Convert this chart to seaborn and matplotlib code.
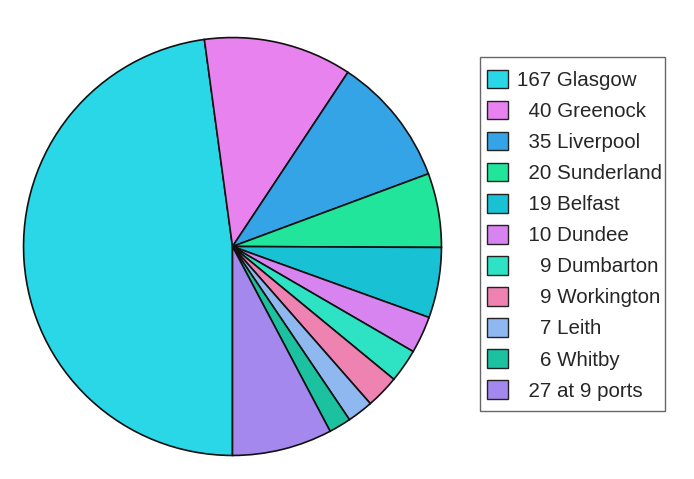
import matplotlib
matplotlib.use("Agg")
import matplotlib.pyplot as plt
import seaborn as sns
from matplotlib.patches import Patch, Rectangle

sns.set_style("white")
plt.rcParams['font.family'] = ['Liberation Sans', 'DejaVu Sans']

ports = ["Glasgow", "Greenock", "Liverpool", "Sunderland", "Belfast", "Dundee",
         "Dumbarton", "Workington", "Leith", "Whitby", "at 9 ports"]
counts = [167, 40, 35, 20, 19, 10, 9, 9, 7, 6, 27]
labels = ["167 Glasgow", "  40 Greenock", "  35 Liverpool", "  20 Sunderland",
          "  19 Belfast", "  10 Dundee", "    9 Dumbarton", "    9 Workington",
          "    7 Leith", "    6 Whitby", "  27 at 9 ports"]
colors = ["#2AD7E6", "#E882EE", "#34A4E6", "#20E59A", "#18C1D4", "#D884F0",
          "#2EE3C4", "#EE82B0", "#90B8F0", "#1CC2A0", "#A488EE"]

W, H = 694, 479
fig = plt.figure(figsize=(W / 100, H / 100), dpi=100)
cx, cy, r = 232.5, 246.5, 210
ax = fig.add_axes([(cx - r) / W, (H - cy - r) / H, 2 * r / W, 2 * r / H])
ax.pie(counts, colors=colors, startangle=-90, counterclock=False,
       wedgeprops=dict(edgecolor="#111111", linewidth=1.2), radius=1)
ax.set_xlim(-1.005, 1.005)
ax.set_ylim(-1.005, 1.005)
ax.set_aspect("equal")
ax.axis("off")

# legend frame
fig.patches.append(Rectangle((480 / W, 1 - 411 / H), (665 - 480) / W, (411 - 57) / H,
                             transform=fig.transFigure, facecolor="white",
                             edgecolor="#666666", linewidth=1.0, zorder=0))

handles = [Patch(facecolor=c, edgecolor="#222222", linewidth=1.0) for c in colors]
leg = fig.legend(handles, labels, loc="upper left",
                 bbox_to_anchor=(487 / W, 1 - 70 / H),
                 fontsize=14.8, frameon=False,
                 handlelength=1.0, handleheight=1.0, handletextpad=0.45,
                 labelspacing=0.525, borderpad=0, borderaxespad=0)

fig.savefig("out.png", dpi=100, facecolor="white")
